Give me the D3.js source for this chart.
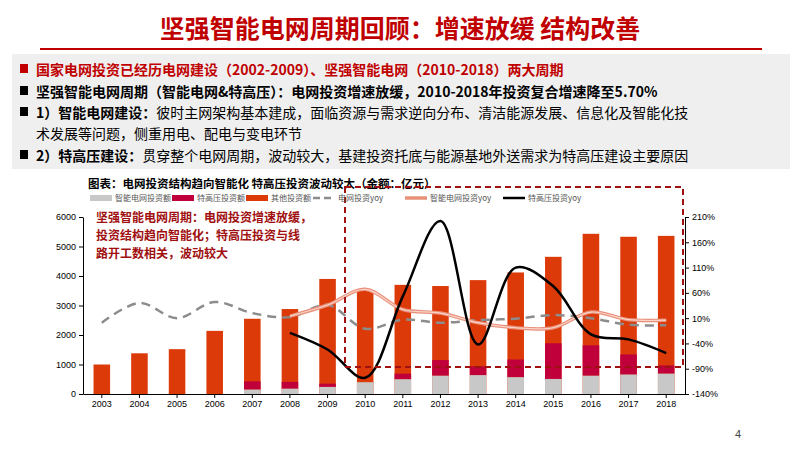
<!DOCTYPE html>
<html><head><meta charset="utf-8">
<script src="https://cdn.jsdelivr.net/npm/d3@7"></script>
<style>body{margin:0;background:#fff}svg{font-family:"Noto Sans CJK SC",sans-serif}</style>
</head><body><svg id="c" width="800" height="450"></svg>
<script>
var years = ["2003","2004","2005","2006","2007","2008","2009","2010","2011","2012","2013","2014","2015","2016","2017","2018"];
var totalInv = [1000,1380,1520,2140,2550,2880,3900,3500,3700,3660,3860,4120,4650,5430,5330,5360];
var smartInv = [0,0,0,0,150,180,240,400,500,620,640,570,510,620,660,690];
var uhvInv = [0,0,0,0,280,230,110,0,190,530,300,600,1210,1030,680,280];
var gridYoy = [1,40,10,42,20,12,36,-11,7,1,6,9,16,10,-3,-4];
var smartYoy = [null,null,null,null,null,14,36,67,27,20,1,-9,-9,22,7,6];
var uhvYoy = [null,null,null,null,null,-19,-52,-108,53,202,-42,110,73,-22,-32,-59];
var leftTicks = [0,1000,2000,3000,4000,5000,6000];
var rightTicks = [-140,-90,-40,10,60,110,160,210];

var svg = d3.select("#c");
var red = "#c00000";

// header
svg.append("text").attr("x",400).attr("y",38).attr("text-anchor","middle").attr("fill",red)
  .attr("font-size",25).attr("font-weight","bold").text("坚强智能电网周期回顾：增速放缓 结构改善");
svg.append("line").attr("x1",40).attr("x2",762).attr("y1",49).attr("y2",49).attr("stroke",red).attr("stroke-width",2);
svg.append("rect").attr("x",12).attr("y",54).attr("width",778).attr("height",115).attr("fill","#efefef");

var bullets = [
  {y:75, c:red, parts:[["国家电网投资已经历电网建设（2002-2009）、坚强智能电网（2010-2018）两大周期","bold"]]},
  {y:97, c:"#000", parts:[["坚强智能电网周期（智能电网&特高压）：电网投资增速放缓，2010-2018年投资复合增速降至5.70%","bold"]]},
  {y:118, c:"#000", parts:[["1）智能电网建设：","bold"],["彼时主网架构基本建成，面临资源与需求逆向分布、清洁能源发展、信息化及智能化技","normal"]]},
  {y:139, c:"#000", parts:[["术发展等问题，侧重用电、配电与变电环节","normal"]], nob:true},
  {y:161, c:"#000", parts:[["2）特高压建设：","bold"],["贯穿整个电网周期，波动较大，基建投资托底与能源基地外送需求为特高压建设主要原因","normal"]]}
];
bullets.forEach(function(b){
  if(!b.nob) svg.append("rect").attr("x",20).attr("y",b.y-11).attr("width",8).attr("height",9).attr("fill",b.c);
  var t = svg.append("text").attr("x",36).attr("y",b.y).attr("font-size",14).attr("fill",b.c);
  b.parts.forEach(function(p){ t.append("tspan").attr("font-weight",p[1]).text(p[0]); });
});

svg.append("text").attr("x",88).attr("y",188).attr("font-size",11.5).attr("font-weight","bold")
  .text("图表：电网投资结构趋向智能化 特高压投资波动较大（金额：亿元）");

// chart
var x = d3.scaleBand().domain(years).range([83,685]).paddingInner(0.56).paddingOuter(0.28);
var y = d3.scaleLinear().domain([0,6000]).range([394,217]);
var y2 = d3.scaleLinear().domain([-140,210]).range([394,217]);

var cOther = "#dd3a0a", cUhv = "#c0003a", cSmart = "#c8c8c8";
var g = svg.append("g");
years.forEach(function(yr,i){
  var bx = x(yr), w = x.bandwidth();
  g.append("rect").attr("x",bx).attr("width",w).attr("y",y(totalInv[i])).attr("height",y(0)-y(totalInv[i])).attr("fill",cOther);
  var s = smartInv[i], u = uhvInv[i];
  g.append("rect").attr("x",bx).attr("width",w).attr("y",y(s+u)).attr("height",y(s)-y(s+u)).attr("fill",cUhv);
  g.append("rect").attr("x",bx).attr("width",w).attr("y",y(s)).attr("height",y(0)-y(s)).attr("fill",cSmart);
});

var ax = svg.append("g").attr("transform","translate(0,394)")
  .call(d3.axisBottom(x).tickSize(4).tickSizeOuter(0));
ax.selectAll("text").attr("font-size",9).attr("font-family","Arial, Liberation Sans");
var al = svg.append("g").attr("transform","translate(83,0)")
  .call(d3.axisLeft(y).tickValues(leftTicks).tickSize(4).tickSizeOuter(0).tickFormat(d3.format("d")));
al.selectAll("text").attr("font-size",9).attr("font-family","Arial, Liberation Sans");
var ar = svg.append("g").attr("transform","translate(685,0)")
  .call(d3.axisRight(y2).tickValues(rightTicks).tickSize(4).tickSizeOuter(0).tickFormat(function(d){return d+"%";}));
ar.selectAll("text").attr("font-size",9).attr("font-family","Arial, Liberation Sans");
svg.selectAll(".domain,.tick line").attr("stroke","#000");

var cx = function(i){ return x(years[i]) + x.bandwidth()/2; };
var line = d3.line().defined(function(d){return d!==null;}).x(function(d,i){return cx(i);}).y(function(d){return y2(d);}).curve(d3.curveCatmullRom.alpha(0.5));
svg.append("path").datum(gridYoy).attr("d",line).attr("fill","none").attr("stroke","#8c8c8c").attr("stroke-width",2.5).attr("stroke-dasharray","9,6");
svg.append("path").datum(smartYoy).attr("d",line).attr("fill","none").attr("stroke","#e8907a").attr("stroke-width",3.5);
svg.append("path").datum(smartYoy).attr("d",line).attr("fill","none").attr("stroke","#fbd3c8").attr("stroke-width",1.2);
svg.append("path").datum(uhvYoy).attr("d",line).attr("fill","none").attr("stroke","#000").attr("stroke-width",2.5);

// dashed box
svg.append("rect").attr("x",345).attr("y",187).attr("width",338).attr("height",180)
  .attr("fill","none").attr("stroke","#a01010").attr("stroke-width",2).attr("stroke-dasharray","6,4");

// annotation
["坚强智能电网周期：电网投资增速放缓，","投资结构趋向智能化；特高压投资与线","路开工数相关，波动较大"].forEach(function(s,i){
  svg.append("text").attr("x",96).attr("y",222+i*18).attr("font-size",12).attr("fill","#a01010").attr("font-weight","bold").text(s);
});

// legend
var leg = [
  {t:"智能电网投资额", k:"rect", c:cSmart, x:90},
  {t:"特高压投资额", k:"rect", c:cUhv, x:172},
  {t:"其他投资额", k:"rect", c:cOther, x:246},
  {t:"电网投资yoy", k:"dash", c:"#8c8c8c", x:313},
  {t:"智能电网投资yoy", k:"pink", c:"#e8907a", x:405},
  {t:"特高压投资yoy", k:"line", c:"#000", x:503}
];
leg.forEach(function(l){
  if(l.k==="rect") svg.append("rect").attr("x",l.x).attr("y",195).attr("width",22).attr("height",6).attr("fill",l.c);
  else svg.append("line").attr("x1",l.x).attr("x2",l.x+22).attr("y1",198).attr("y2",198).attr("stroke",l.c)
    .attr("stroke-width",l.k==="pink"?3.5:2.5).attr("stroke-dasharray",l.k==="dash"?"7,4":null);
  svg.append("text").attr("x",l.x+25).attr("y",201).attr("font-size",8).attr("fill","#555").text(l.t);
});

svg.append("text").attr("x",735).attr("y",438).attr("font-size",11).attr("fill","#444").attr("font-family","Arial, Liberation Sans").text("4");
</script></body></html>
